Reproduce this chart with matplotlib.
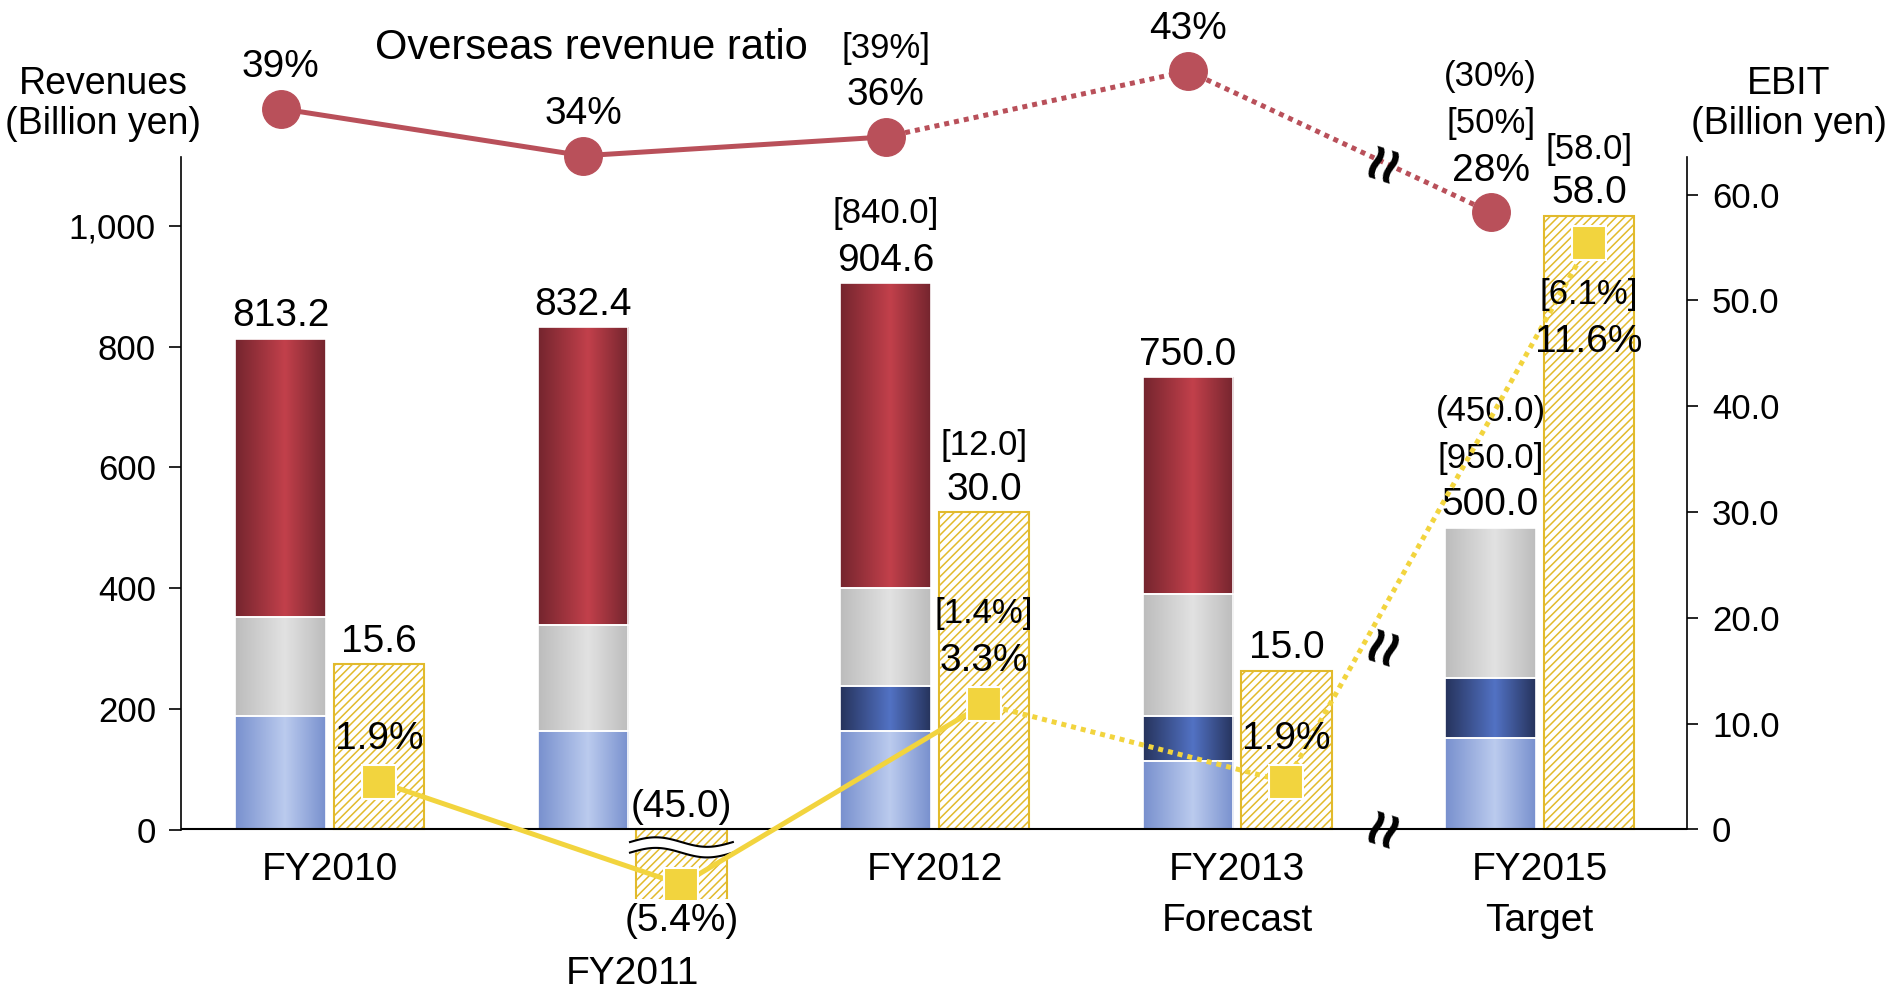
import numpy as np
import matplotlib.pyplot as plt
from matplotlib.colors import LinearSegmentedColormap
from matplotlib.transforms import blended_transform_factory

plt.rcParams["font.family"] = ["Liberation Sans", "DejaVu Sans"]
plt.rcParams["hatch.linewidth"] = 1.1

# ---- data ----
years = ["FY2010", "FY2011", "FY2012", "FY2013\nForecast", "FY2015\nTarget"]

# revenue segments, billion yen (bottom -> top)
rev_light = [188, 164, 164, 114, 151]
rev_dark = [0, 0, 74, 74, 100]
rev_gray = [164, 174, 162, 202, 249]
rev_red = [461.2, 494.4, 504.6, 360.0, 0.0]
revenue_total = [813.2, 832.4, 904.6, 750.0, 500.0]
revenue_notes = ["", "", "[840.0]", "", "(450.0)\n[950.0]"]

ebit = [15.6, -45.0, 30.0, 15.0, 58.0]
ebit_notes = ["", "", "[12.0]", "", "[58.0]"]

ebit_margin = [1.9, -5.4, 3.3, 1.9, 11.6]
margin_notes = ["", "", "[1.4%]", "", "[6.1%]"]

overseas_ratio = [39, 34, 36, 43, 28]
ratio_notes = ["", "", "[39%]", "", "(30%)\n[50%]"]

n_actual = 3  # FY2010-FY2012 actual, rest forecast / target

# ---- style ----
seg_colors = [("#7890CE", "#BBCBEE"), ("#26335C", "#5272C4"),
              ("#BCBCBC", "#E2E2E2"), ("#74252E", "#C2404B")]
red = "#B9505A"
yellow = "#F2D43E"
gold = "#E2BA2C"
margin_floor = 0.05  # broken axis: negative margin drawn at the break
margin_offsets = [31, -26, 31, 31, -37]  # label offset (pt), negative = below

x = np.arange(len(years))
rev_x = x - 0.1625
ebit_x = x + 0.1625
w = 0.30

fig = plt.figure(figsize=(18.93, 9.89), dpi=100)
ax = fig.add_axes([0.0956, 0.0910, 0.7956, 0.7503])
ax2 = ax.twinx()
ax3 = ax.twinx()
axr = fig.add_axes([0.0956, 0.7573, 0.7956, 0.2427])


def stack(axis, xx, yy, value_txt, note, first, step=34):
    lines = [l for l in note.split("\n") if l] + [value_txt]
    sizes = [25] * (len(lines) - 1) + [28]
    n = len(lines)
    for i, (t, s) in enumerate(zip(lines, sizes)):
        off = first + (n - 1 - i) * step if first > 0 else first - i * step
        axis.annotate(t, (xx, yy), xytext=(0, off), textcoords="offset points",
                      ha="center", va="center", fontsize=s, annotation_clip=False,
                      zorder=8)


# revenue stacked bars with horizontal gradient
bottom = np.zeros(len(years))
for vals, (edge, mid) in zip([rev_light, rev_dark, rev_gray, rev_red], seg_colors):
    vals = np.array(vals, dtype=float)
    bars = ax.bar(rev_x, vals, w, bottom=bottom, facecolor="none",
                  edgecolor="white", lw=1.2, zorder=3)
    cmap = LinearSegmentedColormap.from_list("g", [(0, edge), (0.55, mid), (1, edge)])
    for b in bars:
        if b.get_height() <= 0:
            b.set_visible(False)
            continue
        x0, y0 = b.get_x(), b.get_y()
        im = ax.imshow(np.linspace(0, 1, 256)[None, :], cmap=cmap, aspect="auto",
                       extent=[x0, x0 + b.get_width(), y0, y0 + b.get_height()],
                       interpolation="bilinear", zorder=2)
        im.set_clip_path(b)
    bottom += vals

for i in range(len(years)):
    stack(ax, rev_x[i], revenue_total[i], f"{revenue_total[i]:,.1f}", revenue_notes[i], 16)

# EBIT bars
ax2.bar(ebit_x, ebit, w, facecolor="white", edgecolor=gold, hatch="////", lw=1.5, zorder=2)
ax2.axhline(0, color="black", lw=1.5, zorder=6)
for i, v in enumerate(ebit):
    txt = f"{v:.1f}" if v >= 0 else f"({-v:.1f})"
    stack(ax2, ebit_x[i], max(v, 0), txt, ebit_notes[i], 16, step=32)

# break on the negative EBIT bar
for i, v in enumerate(ebit):
    if v < 0:
        t = np.linspace(0, 1, 100)
        xs = ebit_x[i] - w / 2 - 0.02 + t * (w + 0.04)
        wave = 0.45 * np.sin(2 * np.pi * t)
        ax2.fill_between(xs, -1.2 + wave, -2.2 + wave, color="white", zorder=4)
        ax2.plot(xs, -1.2 + wave, color="black", lw=1.5, zorder=5)
        ax2.plot(xs, -2.2 + wave, color="black", lw=1.5, zorder=5)

# EBIT margin line
m_disp = np.maximum(ebit_margin, margin_floor)
ax3.plot(ebit_x[:n_actual], m_disp[:n_actual], color=yellow, lw=3.6, zorder=3)
ax3.plot(ebit_x[n_actual - 1:], m_disp[n_actual - 1:], color=yellow, lw=3.6,
         ls=(0, (1, 1)), zorder=3)
ax3.plot(ebit_x, m_disp, ls="none", marker="s", ms=25, mfc=yellow, mec="white",
         mew=1.5, zorder=4)
for i, v in enumerate(ebit_margin):
    txt = f"{v:.1f}%" if v >= 0 else f"({-v:.1f}%)"
    stack(ax3, ebit_x[i], m_disp[i], txt, margin_notes[i], margin_offsets[i])

# overseas revenue ratio
axr.plot(rev_x[:n_actual], overseas_ratio[:n_actual], color=red, lw=3.6, zorder=3)
axr.plot(rev_x[n_actual - 1:], overseas_ratio[n_actual - 1:], color=red, lw=3.6,
         ls=(0, (1, 1)), zorder=3)
axr.plot(rev_x, overseas_ratio, ls="none", marker="o", ms=27, mfc=red, mec=red, zorder=4)
for i, v in enumerate(overseas_ratio):
    stack(axr, rev_x[i], v, f"{v}%", ratio_notes[i], 30)

# break marks between FY2013 and FY2015
bx = (x[3] + x[4]) / 2
brk = dict(rotation=72, fontsize=46, fontweight="bold", ha="center", va="center", zorder=9)
axr.text(bx, np.interp(bx, rev_x, overseas_ratio), "≈", **brk)
ax3.text(bx, 0.338, "≈", transform=blended_transform_factory(ax3.transData, ax3.transAxes), **brk)
ax2.text(bx, 0, "≈", **brk)

# x labels
for i, lab in enumerate(years):
    base = -29 if ebit[i] >= 0 else -104
    for j, line in enumerate(lab.split("\n")):
        ax.annotate(line, (x[i], 0), xytext=(0, base - 37 * j), textcoords="offset points",
                    ha="center", va="center", fontsize=28, annotation_clip=False)

# axes
for a in (ax, ax2, ax3, axr):
    a.set_xlim(-0.492, 4.487)
ax.set_ylim(-115, 1114)
ax2.set_ylim(-6.58, 63.55)
ax3.set_ylim(-0.21, 13.15)
axr.set_ylim(25.05, 50.54)
axr.axis("off")
ax3.axis("off")

for a in (ax, ax2):
    for s in ("top", "bottom"):
        a.spines[s].set_visible(False)
    a.set_xticks([])
ax.spines["right"].set_visible(False)
ax2.spines["left"].set_visible(False)
ax.spines["left"].set_bounds(0, 1114)
ax2.spines["right"].set_bounds(0, 63.55)
ax.spines["left"].set_linewidth(1.2)
ax2.spines["right"].set_linewidth(1.2)

ax.set_yticks(range(0, 1001, 200))
ax.yaxis.set_major_formatter(lambda v, p: f"{v:,.0f}")
ax.tick_params(axis="y", labelsize=25, length=9, width=1.2, pad=9)
ax2.set_yticks(range(0, 61, 10))
ax2.yaxis.set_major_formatter(lambda v, p: "0" if v == 0 else f"{v:.1f}")
ax2.tick_params(axis="y", labelsize=25, length=8, width=1.2, pad=10)

fig.text(103 / 1893, 1 - 104 / 989, "Revenues\n(Billion yen)", ha="center", va="center",
         fontsize=27, linespacing=1.15)
fig.text(1789 / 1893, 1 - 104 / 989, "EBIT\n(Billion yen)", ha="center", va="center",
         fontsize=27, linespacing=1.15)
fig.text(591 / 1893, 1 - 48 / 989, "Overseas revenue ratio", ha="center", va="center",
         fontsize=30)

fig.savefig("out.png", dpi=100, facecolor="white")
